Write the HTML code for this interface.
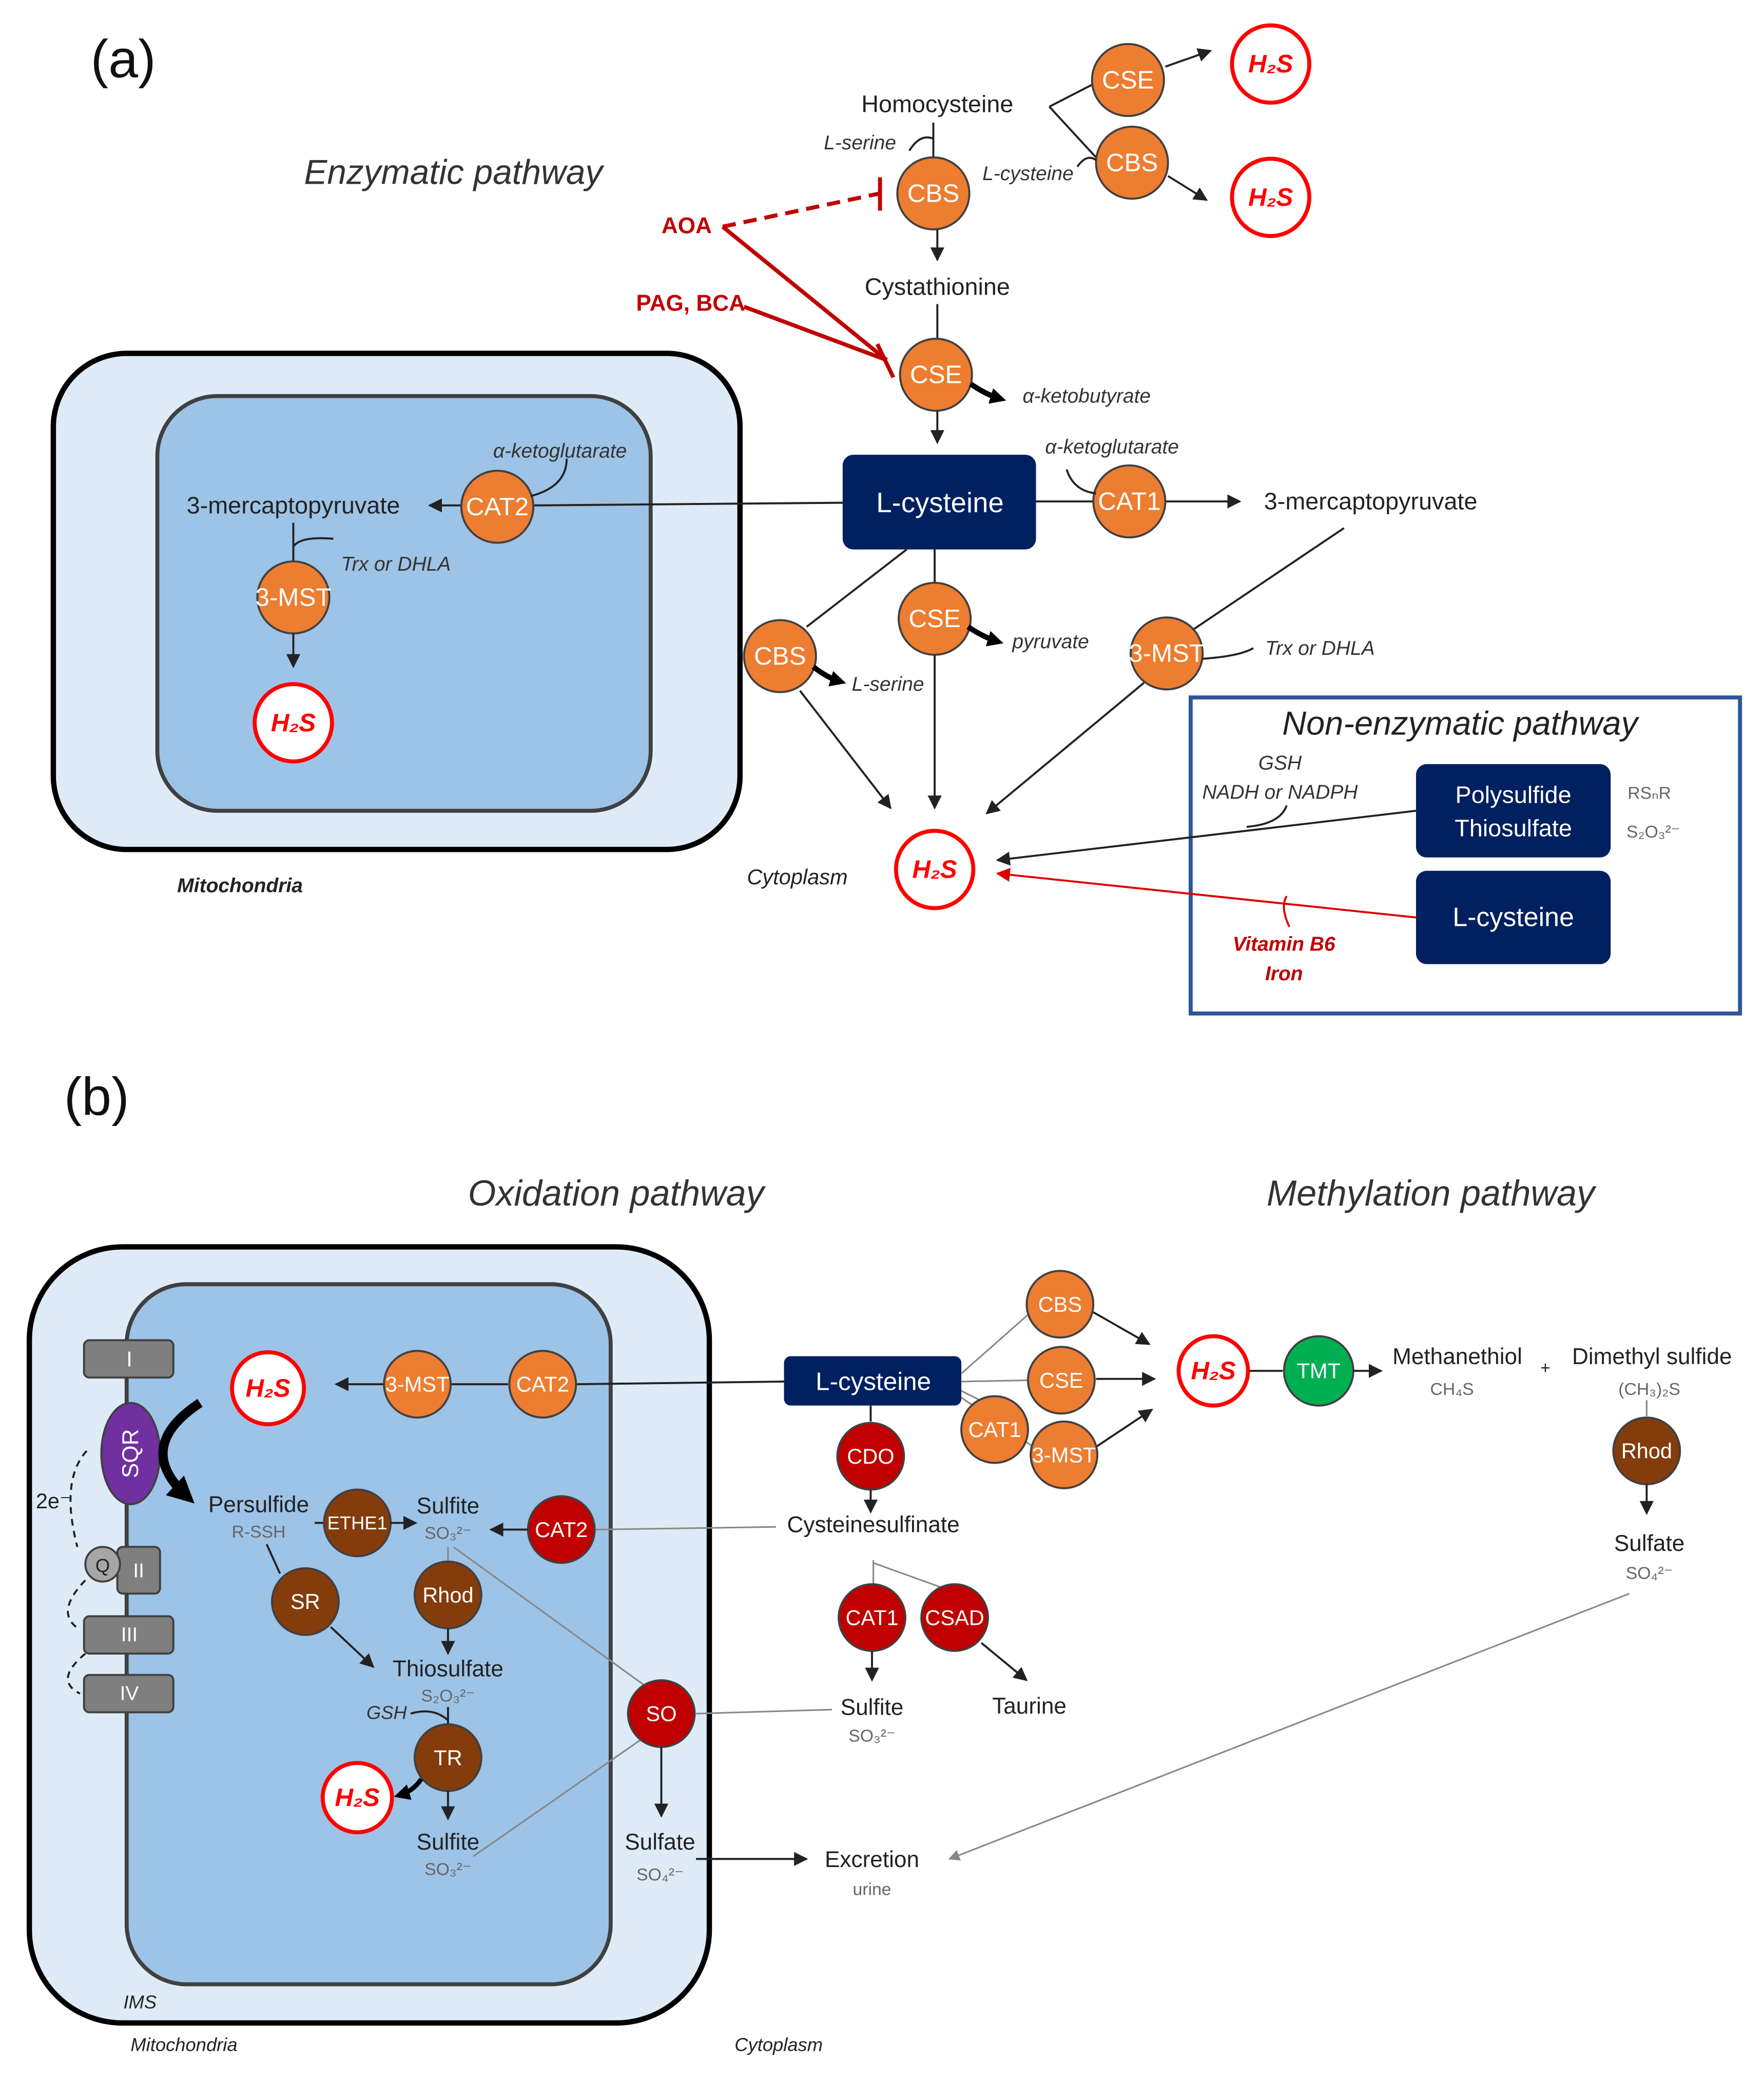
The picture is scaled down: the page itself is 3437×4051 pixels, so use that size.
<!DOCTYPE html>
<html><head><meta charset="utf-8"><style>
html,body{margin:0;padding:0;background:#fff}
svg{display:block}
text{font-family:"Liberation Sans",sans-serif}
.o{fill:#ED7D31;stroke:#404040;stroke-width:1.5}
.w{fill:#fff;font-size:19px;text-anchor:middle;dominant-baseline:central}
.ws{fill:#fff;font-size:16px;text-anchor:middle;dominant-baseline:central}
.t{fill:#222;font-size:18px;text-anchor:middle}
.i{fill:#333;font-size:15px;font-style:italic;text-anchor:middle}
.s{fill:#666;font-size:13px;text-anchor:middle}
.h{fill:#fff;stroke:#f00;stroke-width:3}
.hl{fill:#f00;font-size:19px;font-style:italic;font-weight:bold;text-anchor:middle;dominant-baseline:central}
.l{stroke:#222;stroke-width:1.5;fill:none}
.g{stroke:#888;stroke-width:1.2;fill:none}
.dr{fill:#C00000;stroke:#404040;stroke-width:1.5}
.br{fill:#843C0C;stroke:#404040;stroke-width:1.5}
.nv{fill:#002060}
.gb{fill:#7F7F7F;stroke:#404040;stroke-width:1.5}
</style></head><body>
<svg width="3437" height="4051" viewBox="0 0 1323 1559" preserveAspectRatio="none" xmlns="http://www.w3.org/2000/svg">
<defs>
<marker id="a" viewBox="0 0 10 10" refX="9" refY="5" markerWidth="7" markerHeight="7" orient="auto"><path d="M0,0L10,5L0,10z" fill="#222"/></marker>
<marker id="ab" viewBox="0 0 10 10" refX="6" refY="5" markerWidth="12" markerHeight="12" markerUnits="userSpaceOnUse" orient="auto"><path d="M0,0L10,5L0,10z" fill="#000"/></marker>
<marker id="abb" viewBox="0 0 10 10" refX="6" refY="5" markerWidth="20" markerHeight="20" markerUnits="userSpaceOnUse" orient="auto"><path d="M0,0L10,5L0,10z" fill="#000"/></marker>
<marker id="ag" viewBox="0 0 10 10" refX="9" refY="5" markerWidth="7" markerHeight="7" orient="auto"><path d="M0,0L10,5L0,10z" fill="#888"/></marker>
<marker id="ar" viewBox="0 0 10 10" refX="9" refY="5" markerWidth="7" markerHeight="7" orient="auto"><path d="M0,0L10,5L0,10z" fill="#d00"/></marker>
</defs>

<!-- (a) -->
<text x="68" y="58" font-size="40" fill="#111">(a)</text>
<text x="340" y="138" font-size="26" font-style="italic" fill="#333" text-anchor="middle">Enzymatic pathway</text>

<rect x="40" y="265" width="515" height="372" rx="55" fill="#DEEBF7" stroke="#000" stroke-width="4"/>
<rect x="118" y="297" width="370" height="311" rx="45" fill="#9DC3E6" stroke="#404040" stroke-width="3"/>

<text x="703" y="84" class="t">Homocysteine</text>
<path class="l" d="M787,80 L822,62 M787,80 L822,118"/>
<line class="l" x1="874" y1="50" x2="908" y2="38" marker-end="url(#a)"/>
<line class="l" x1="876" y1="132" x2="905" y2="150" marker-end="url(#a)"/>
<circle class="h" cx="953" cy="48" r="29"/><text class="hl" x="953" y="48">H₂S</text>
<circle class="h" cx="953" cy="148" r="29"/><text class="hl" x="953" y="148">H₂S</text>
<circle class="o" cx="846" cy="60" r="27"/><text class="w" x="846" y="60">CSE</text>
<circle class="o" cx="849" cy="122" r="27"/><text class="w" x="849" y="122">CBS</text>
<text x="771" y="135" class="i">L-cysteine</text>
<path class="l" d="M808,125 Q815,115 822,120"/>
<line class="l" x1="700" y1="92" x2="700" y2="118"/>
<path class="l" d="M682,113 Q690,100 700,104"/>
<text x="645" y="112" class="i">L-serine</text>
<circle class="o" cx="700" cy="145" r="27"/><text class="w" x="700" y="145">CBS</text>
<line class="l" x1="703" y1="172" x2="703" y2="195" marker-end="url(#a)"/>
<text x="703" y="221" class="t">Cystathionine</text>
<line class="l" x1="703" y1="228" x2="703" y2="254"/>
<circle class="o" cx="702" cy="281" r="27"/><text class="w" x="702" y="281">CSE</text>
<path d="M728,288 Q740,296 750,299" stroke="#000" stroke-width="4" fill="none" marker-end="url(#ab)"/>
<text x="815" y="302" class="i">α-ketobutyrate</text>
<line class="l" x1="703" y1="308" x2="703" y2="332" marker-end="url(#a)"/>

<text x="515" y="175" fill="#C00000" font-size="17" font-weight="bold" text-anchor="middle">AOA</text>
<text x="518" y="233" fill="#C00000" font-size="17" font-weight="bold" text-anchor="middle">PAG, BCA</text>
<path d="M542,170 L660,145" stroke="#C00000" stroke-width="3" stroke-dasharray="10,6" fill="none"/>
<line x1="660" y1="133" x2="660" y2="158" stroke="#C00000" stroke-width="3"/>
<path d="M542,170 L665,270 M558,230 L665,270" stroke="#C00000" stroke-width="3" fill="none"/>
<line x1="658" y1="258" x2="670" y2="283" stroke="#C00000" stroke-width="3"/>

<rect x="632" y="341" width="145" height="71" rx="8" class="nv"/>
<text x="705" y="377" fill="#fff" font-size="21" text-anchor="middle" dominant-baseline="central">L-cysteine</text>
<line class="l" x1="632" y1="377" x2="400" y2="379"/>
<line class="l" x1="777" y1="376" x2="822" y2="376"/>
<line class="l" x1="874" y1="376" x2="930" y2="376" marker-end="url(#a)"/>
<circle class="o" cx="847" cy="376" r="27"/><text class="w" x="847" y="376">CAT1</text>
<path class="l" d="M800,352 Q805,368 822,370"/>
<text x="834" y="340" class="i">α-ketoglutarate</text>
<text x="1028" y="382" class="t">3-mercaptopyruvate</text>
<line class="l" x1="1008" y1="396" x2="895" y2="472"/>

<line class="l" x1="346" y1="379" x2="322" y2="379" marker-end="url(#a)"/>
<text x="220" y="385" class="t">3-mercaptopyruvate</text>
<circle class="o" cx="373" cy="380" r="27"/><text class="w" x="373" y="380">CAT2</text>
<path class="l" d="M398,372 Q425,365 425,344"/>
<text x="420" y="343" class="i">α-ketoglutarate</text>
<line class="l" x1="220" y1="392" x2="220" y2="421"/>
<path class="l" d="M220,410 Q225,402 250,404"/>
<text x="297" y="428" class="i">Trx or DHLA</text>
<circle class="o" cx="220" cy="448" r="27"/><text class="w" x="220" y="448">3-MST</text>
<line class="l" x1="220" y1="475" x2="220" y2="500" marker-end="url(#a)"/>
<circle class="h" cx="220" cy="542" r="29"/><text class="hl" x="220" y="542">H₂S</text>
<text x="180" y="669" class="i" style="fill:#222;font-weight:bold">Mitochondria</text>

<line class="l" x1="680" y1="412" x2="605" y2="470"/>
<line class="l" x1="701" y1="412" x2="701" y2="438"/>
<circle class="o" cx="585" cy="492" r="27"/><text class="w" x="585" y="492">CBS</text>
<circle class="o" cx="701" cy="464" r="27"/><text class="w" x="701" y="464">CSE</text>
<circle class="o" cx="875" cy="490" r="27"/><text class="w" x="875" y="490">3-MST</text>
<path d="M610,500 Q620,508 630,511" stroke="#000" stroke-width="4" fill="none" marker-end="url(#ab)"/>
<text x="666" y="518" class="i">L-serine</text>
<path d="M726,470 Q738,478 748,481" stroke="#000" stroke-width="4" fill="none" marker-end="url(#ab)"/>
<text x="788" y="486" class="i">pyruvate</text>
<path class="l" d="M902,494 Q930,492 940,486"/>
<text x="990" y="491" class="i">Trx or DHLA</text>
<line class="l" x1="600" y1="518" x2="668" y2="606" marker-end="url(#a)"/>
<line class="l" x1="701" y1="491" x2="701" y2="606" marker-end="url(#a)"/>
<line class="l" x1="858" y1="512" x2="740" y2="610" marker-end="url(#a)"/>
<circle class="h" cx="701" cy="652" r="29"/><text class="hl" x="701" y="652">H₂S</text>
<text x="598" y="663" class="i" style="fill:#222;font-size:16px">Cytoplasm</text>

<rect x="893" y="523" width="412" height="237" fill="none" stroke="#2F5597" stroke-width="3"/>
<text x="1095" y="551" font-size="25" font-style="italic" fill="#222" text-anchor="middle">Non-enzymatic pathway</text>
<rect x="1062" y="573" width="146" height="70" rx="8" class="nv"/>
<text x="1135" y="596" fill="#fff" font-size="18" text-anchor="middle" dominant-baseline="central">Polysulfide</text>
<text x="1135" y="621" fill="#fff" font-size="18" text-anchor="middle" dominant-baseline="central">Thiosulfate</text>
<rect x="1062" y="653" width="146" height="70" rx="8" class="nv"/>
<text x="1135" y="688" fill="#fff" font-size="20" text-anchor="middle" dominant-baseline="central">L-cysteine</text>
<text x="960" y="577" class="i">GSH</text>
<text x="960" y="599" class="i">NADH or NADPH</text>
<path class="l" d="M935,620 Q960,618 965,604"/>
<line class="l" x1="1062" y1="608" x2="748" y2="645" marker-end="url(#a)"/>
<line x1="1062" y1="688" x2="748" y2="655" stroke="#d00" stroke-width="1.5" marker-end="url(#ar)"/>
<path d="M965,672 Q960,680 967,695" stroke="#d00" stroke-width="1.5" fill="none"/>
<text x="963" y="713" class="i" style="fill:#C00000;font-weight:bold">Vitamin B6</text>
<text x="963" y="735" class="i" style="fill:#C00000;font-weight:bold">Iron</text>
<text x="1237" y="599" class="s">RSₙR</text>
<text x="1240" y="628" class="s">S₂O₃²⁻</text>

<!-- (b) -->
<text x="48" y="836" font-size="40" fill="#111">(b)</text>
<text x="462" y="904" font-size="27" font-style="italic" fill="#333" text-anchor="middle">Oxidation pathway</text>
<text x="1073" y="904" font-size="27" font-style="italic" fill="#333" text-anchor="middle">Methylation pathway</text>

<rect x="22" y="935" width="510" height="582" rx="70" fill="#DEEBF7" stroke="#000" stroke-width="4"/>
<rect x="95" y="963" width="363" height="525" rx="45" fill="#9DC3E6" stroke="#404040" stroke-width="3"/>

<rect x="63" y="1005" width="67" height="28" rx="4" class="gb"/><text x="97" y="1019" fill="#fff" font-size="16" text-anchor="middle" dominant-baseline="central">I</text>
<ellipse cx="98" cy="1090" rx="22" ry="38" fill="#7030A0" stroke="#404040" stroke-width="1.5"/>
<text x="98" y="1090" fill="#fff" font-size="17" text-anchor="middle" dominant-baseline="central" transform="rotate(-90 98 1090)">SQR</text>
<rect x="88" y="1160" width="32" height="35" rx="4" class="gb"/><text x="104" y="1178" fill="#fff" font-size="15" text-anchor="middle" dominant-baseline="central">II</text>
<circle cx="77" cy="1173" r="13" fill="#A6A6A6" stroke="#404040" stroke-width="1.5"/><text x="77" y="1174" fill="#222" font-size="14" text-anchor="middle" dominant-baseline="central">Q</text>
<rect x="63" y="1212" width="67" height="28" rx="4" class="gb"/><text x="97" y="1226" fill="#fff" font-size="15" text-anchor="middle" dominant-baseline="central">III</text>
<rect x="63" y="1256" width="67" height="28" rx="4" class="gb"/><text x="97" y="1270" fill="#fff" font-size="15" text-anchor="middle" dominant-baseline="central">IV</text>
<text x="40" y="1131" font-size="16" fill="#222" text-anchor="middle">2e⁻</text>
<path d="M65,1088 Q45,1110 58,1160 M64,1185 Q40,1210 60,1222 M64,1240 Q40,1260 60,1270" stroke="#222" stroke-width="1.5" stroke-dasharray="5,4" fill="none"/>
<path d="M150,1052 Q100,1085 140,1122" stroke="#000" stroke-width="7" fill="none" marker-end="url(#abb)"/>

<circle class="h" cx="201" cy="1041" r="27"/><text class="hl" x="201" y="1041">H₂S</text>
<line class="l" x1="588" y1="1036" x2="432" y2="1038"/>
<line class="l" x1="381" y1="1038" x2="338" y2="1038"/>
<line class="l" x1="288" y1="1038" x2="252" y2="1038" marker-end="url(#a)"/>
<circle class="o" cx="313" cy="1038" r="25"/><text class="ws" x="313" y="1038">3-MST</text>
<circle class="o" cx="407" cy="1038" r="25"/><text class="ws" x="407" y="1038">CAT2</text>

<rect x="588" y="1017" width="133" height="37" rx="5" class="nv"/>
<text x="655" y="1036" fill="#fff" font-size="19" text-anchor="middle" dominant-baseline="central">L-cysteine</text>
<path class="g" d="M721,1030 L772,985 M721,1036 L772,1035 M721,1043 L735,1050 M721,1048 L775,1085"/>
<line class="l" x1="820" y1="984" x2="862" y2="1008" marker-end="url(#a)"/>
<line class="l" x1="822" y1="1034" x2="866" y2="1034" marker-end="url(#a)"/>
<line class="l" x1="822" y1="1085" x2="864" y2="1057" marker-end="url(#a)"/>
<circle class="o" cx="795" cy="978" r="25"/><text class="ws" x="795" y="978">CBS</text>
<circle class="o" cx="796" cy="1035" r="25"/><text class="ws" x="796" y="1035">CSE</text>
<circle class="o" cx="746" cy="1072" r="25"/><text class="ws" x="746" y="1072">CAT1</text>
<circle class="o" cx="798" cy="1091" r="25"/><text class="ws" x="798" y="1091">3-MST</text>
<circle class="h" cx="910" cy="1028" r="26"/><text class="hl" x="910" y="1028">H₂S</text>
<line class="l" x1="937" y1="1028" x2="962" y2="1028"/>
<circle cx="989" cy="1028" r="26" fill="#00B050" stroke="#404040" stroke-width="1.5"/><text class="ws" x="989" y="1028">TMT</text>
<line class="l" x1="1015" y1="1028" x2="1036" y2="1028" marker-end="url(#a)"/>
<text x="1093" y="1023" class="t" style="font-size:17px">Methanethiol</text>
<text x="1089" y="1046" class="s">CH₄S</text>
<text x="1159" y="1030" class="t" style="font-size:13px">+</text>
<text x="1239" y="1023" class="t" style="font-size:17px">Dimethyl sulfide</text>
<text x="1237" y="1046" class="s">(CH₃)₂S</text>
<line class="g" x1="1235" y1="1050" x2="1235" y2="1062"/>
<circle class="br" cx="1235" cy="1088" r="25"/><text class="ws" x="1235" y="1088">Rhod</text>
<line class="l" x1="1235" y1="1113" x2="1235" y2="1135" marker-end="url(#a)"/>
<text x="1237" y="1163" class="t" style="font-size:17px">Sulfate</text>
<text x="1237" y="1184" class="s">SO₄²⁻</text>
<line class="g" x1="1222" y1="1195" x2="712" y2="1394" marker-end="url(#ag)"/>

<line class="l" x1="653" y1="1054" x2="653" y2="1066"/>
<circle class="dr" cx="653" cy="1092" r="25"/><text class="ws" x="653" y="1092">CDO</text>
<line class="l" x1="653" y1="1117" x2="653" y2="1134" marker-end="url(#a)"/>
<text x="655" y="1149" class="t" style="font-size:17px">Cysteinesulfinate</text>
<line class="g" x1="582" y1="1145" x2="446" y2="1147"/>
<circle class="dr" cx="421" cy="1147" r="25"/><text class="ws" x="421" y="1147">CAT2</text>
<line class="l" x1="396" y1="1147" x2="368" y2="1147" marker-end="url(#a)"/>
<path class="g" d="M655,1170 L655,1188 M655,1172 L705,1190"/>
<circle class="dr" cx="654" cy="1213" r="25"/><text class="ws" x="654" y="1213">CAT1</text>
<circle class="dr" cx="716" cy="1213" r="25"/><text class="ws" x="716" y="1213">CSAD</text>
<line class="l" x1="654" y1="1238" x2="654" y2="1260" marker-end="url(#a)"/>
<line class="l" x1="736" y1="1232" x2="770" y2="1260" marker-end="url(#a)"/>
<text x="654" y="1286" class="t" style="font-size:17px">Sulfite</text>
<text x="654" y="1306" class="s">SO₃²⁻</text>
<text x="772" y="1285" class="t" style="font-size:17px">Taurine</text>
<line class="g" x1="624" y1="1282" x2="522" y2="1285"/>

<text x="194" y="1134" class="t" style="font-size:17px">Persulfide</text>
<text x="194" y="1153" class="s">R-SSH</text>
<line class="l" x1="236" y1="1142" x2="243" y2="1142"/>
<circle class="br" cx="268" cy="1142" r="25"/><text class="ws" x="268" y="1142" style="font-size:14px">ETHE1</text>
<line class="l" x1="293" y1="1142" x2="312" y2="1142" marker-end="url(#a)"/>
<text x="336" y="1135" class="t" style="font-size:17px">Sulfite</text>
<text x="336" y="1154" class="s">SO₃²⁻</text>
<line class="g" x1="340" y1="1160" x2="485" y2="1265"/>
<line class="l" x1="200" y1="1158" x2="210" y2="1180"/>
<circle class="br" cx="229" cy="1201" r="25"/><text class="ws" x="229" y="1201">SR</text>
<line class="l" x1="248" y1="1220" x2="280" y2="1250" marker-end="url(#a)"/>
<line class="g" x1="336" y1="1160" x2="336" y2="1171"/>
<circle class="br" cx="336" cy="1196" r="25"/><text class="ws" x="336" y="1196">Rhod</text>
<line class="l" x1="336" y1="1221" x2="336" y2="1240" marker-end="url(#a)"/>
<text x="336" y="1257" class="t" style="font-size:17px">Thiosulfate</text>
<text x="336" y="1276" class="s">S₂O₃²⁻</text>
<text x="290" y="1289" class="i" style="font-size:14px">GSH</text>
<path class="l" d="M308,1285 Q325,1280 336,1290"/>
<line class="l" x1="336" y1="1280" x2="336" y2="1293"/>
<circle class="br" cx="336" cy="1318" r="25"/><text class="ws" x="336" y="1318">TR</text>
<path d="M316,1334 Q310,1343 300,1346" stroke="#000" stroke-width="3.5" fill="none" marker-end="url(#ab)"/>
<circle class="h" cx="268" cy="1348" r="26"/><text class="hl" x="268" y="1348">H₂S</text>
<line class="l" x1="336" y1="1343" x2="336" y2="1364" marker-end="url(#a)"/>
<text x="336" y="1387" class="t" style="font-size:17px">Sulfite</text>
<text x="336" y="1406" class="s">SO₃²⁻</text>
<line class="g" x1="355" y1="1392" x2="480" y2="1305"/>
<circle class="dr" cx="496" cy="1285" r="25"/><text class="ws" x="496" y="1285">SO</text>
<line class="l" x1="496" y1="1310" x2="496" y2="1362" marker-end="url(#a)"/>
<text x="495" y="1387" class="t" style="font-size:17px">Sulfate</text>
<text x="495" y="1410" class="s">SO₄²⁻</text>
<line class="l" x1="522" y1="1394" x2="605" y2="1394" marker-end="url(#a)"/>
<text x="654" y="1400" class="t" style="font-size:17px">Excretion</text>
<text x="654" y="1421" class="s">urine</text>

<text x="105" y="1506" class="i" style="fill:#222;font-size:14px">IMS</text>
<text x="138" y="1538" class="i" style="fill:#222;font-size:14px">Mitochondria</text>
<text x="584" y="1538" class="i" style="fill:#222;font-size:14px">Cytoplasm</text>
</svg>
</body></html>
